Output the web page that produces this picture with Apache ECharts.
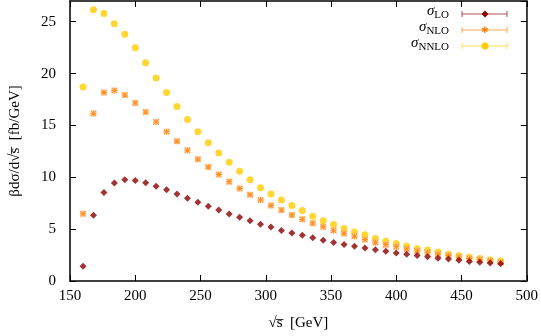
<!DOCTYPE html>
<html>
<head>
<meta charset="utf-8">
<script src="https://cdn.jsdelivr.net/npm/echarts@6/dist/echarts.min.js"></script>
<style>
  html, body { margin: 0; padding: 0; background: #fff; }
  #chart { width: 541px; height: 336px; }
</style>
</head>
<body>
<div id="chart"></div>
<script>
// sqrt(s) in GeV
const energies = [160, 168, 176, 184, 192, 200, 208, 216, 224, 232, 240, 248, 256, 264, 272, 280, 288, 296,
  304, 312, 320, 328, 336, 344, 352, 360, 368, 376, 384, 392, 400, 408, 416, 424, 432, 440, 448, 456, 464, 472, 480]

// beta dsigma/dsqrt(s) [fb/GeV]
const sigmaLO = [1.42, 6.33, 8.54, 9.45, 9.77, 9.70, 9.48, 9.14, 8.79, 8.38, 7.97, 7.59, 7.21, 6.84, 6.46, 6.14, 5.80, 5.47,
  5.20, 4.88, 4.63, 4.41, 4.16, 3.94, 3.72, 3.53, 3.34, 3.18, 3.02, 2.86, 2.71, 2.58, 2.46, 2.33, 2.20, 2.11, 2.01, 1.89, 1.80, 1.73, 1.67]
const sigmaNLO = [6.49, 16.16, 18.18, 18.37, 17.93, 17.17, 16.29, 15.34, 14.40, 13.48, 12.60, 11.75, 10.99, 10.27, 9.58, 8.92, 8.32, 7.81,
  7.28, 6.84, 6.36, 5.95, 5.58, 5.23, 4.88, 4.57, 4.32, 4.00, 3.72, 3.50, 3.31, 3.09, 2.90, 2.74, 2.58, 2.46, 2.30, 2.17, 2.08, 1.96, 1.82]
const sigmaNNLO = [18.70, 26.15, 25.80, 24.80, 23.80, 22.50, 21.05, 19.57, 18.18, 16.82, 15.57, 14.40, 13.33, 12.35, 11.44, 10.59, 9.77, 9.00,
  8.38, 7.81, 7.28, 6.80, 6.24, 5.80, 5.45, 5.07, 4.73, 4.47, 4.09, 3.84, 3.62, 3.37, 3.12, 3.00, 2.80, 2.58, 2.46, 2.30, 2.17, 2.05, 1.92]

const xTicks = [150, 200, 250, 300, 350, 400, 450, 500]
const yTicks = [0, 5, 10, 15, 20, 25]

const colLO = '#8b0000'
const colNLO = '#ff8000'
const colNLOpale = '#ffc48c'
const colNNLO = '#ffcc00'

const font = 'Liberation Serif, DejaVu Serif, serif'
const pts = ys => energies.map((x, i) => [x, ys[i]])

// gnuplot-like asterisk (+ and x)
const asterisk = 'path://M0,4.3H10V5.7H0Z M4.3,0H5.7V10H4.3Z M1,0L10,9L9,10L0,1Z M9,0L10,1L1,10L0,9Z'

const chart = echarts.init(document.getElementById('chart'), null, { renderer: 'canvas' })

const xBase = {
  type: 'value', min: 150, max: 500, interval: 50,
  axisLine: { show: true, onZero: false, lineStyle: { color: '#333', width: 1.5 } },
  axisTick: { show: true, inside: true, length: 6, lineStyle: { color: '#000' } },
  splitLine: { show: false }
}
const yBase = {
  type: 'value', min: 0, max: 27, interval: 5,
  axisLine: { show: true, onZero: false, lineStyle: { color: '#333', width: 1.5 } },
  axisTick: { show: true, inside: true, length: 6, lineStyle: { color: '#000' } },
  splitLine: { show: false }
}

// legend rows
const legendRows = [
  { name: 'LO', color: colLO, y: 14, symbol: 'diamond' },
  { name: 'NLO', color: colNLO, y: 30, symbol: 'asterisk' },
  { name: 'NNLO', color: colNNLO, y: 46, symbol: 'circle' }
]
const graphics = []
legendRows.forEach(r => {
  graphics.push({
    type: 'text', right: 541 - 449, top: r.y - 10,
    style: {
      text: '{s|σ}{b|' + r.name + '}',
      rich: {
        s: { fontFamily: font, fontStyle: 'italic', fontSize: 15, fill: '#000' },
        b: { fontFamily: font, fontSize: 11, fill: '#000', padding: [8, 0, 0, 0] }
      }
    }
  })
  const line = { stroke: r.color, opacity: 0.45, lineWidth: 1.5 }
  graphics.push({ type: 'line', shape: { x1: 462, y1: r.y, x2: 507, y2: r.y }, style: line })
  graphics.push({ type: 'line', shape: { x1: 462, y1: r.y - 3, x2: 462, y2: r.y + 3 }, style: line })
  graphics.push({ type: 'line', shape: { x1: 507, y1: r.y - 3, x2: 507, y2: r.y + 3 }, style: line })
  if (r.symbol === 'circle') {
    graphics.push({ type: 'circle', shape: { cx: 485, cy: r.y, r: 3.5 }, style: { fill: r.color } })
  } else if (r.symbol === 'diamond') {
    graphics.push({ type: 'polygon', shape: { points: [[485, r.y - 3.5], [488.5, r.y], [485, r.y + 3.5], [481.5, r.y]] }, style: { fill: r.color } })
  } else {
    graphics.push({ type: 'text', x: 485, y: r.y + 1, style: { text: '✱', fill: r.color, fontSize: 9, align: 'center', verticalAlign: 'middle' } })
  }
})

chart.setOption({
  animation: false,
  backgroundColor: '#fff',
  textStyle: { fontFamily: font },
  grid: { left: 66, right: 14, top: 1, bottom: 50, show: true, borderColor: '#333', borderWidth: 1.5 },
  xAxis: [
    {
      ...xBase, position: 'bottom',
      name: '√s̅  [GeV]', nameLocation: 'middle', nameGap: 35,
      nameTextStyle: { fontFamily: font, fontSize: 15, color: '#000' },
      axisLabel: { color: '#000', fontFamily: font, fontSize: 15, margin: 8 }
    },
    { ...xBase, position: 'top', axisLabel: { show: false } }
  ],
  yAxis: [
    {
      ...yBase, position: 'left',
      name: 'βdσ/d√s̅  [fb/GeV]', nameLocation: 'middle', nameGap: 47, nameRotate: 90,
      nameTextStyle: { fontFamily: font, fontSize: 15, color: '#000' },
      axisLabel: { color: '#000', fontFamily: font, fontSize: 15, margin: 14, showMaxLabel: false,
        formatter: v => (yTicks.includes(v) ? String(v) : '') }
    },
    { ...yBase, position: 'right', axisLabel: { show: false } }
  ],
  graphic: graphics,
  series: [
    {
      name: 'NNLO', type: 'scatter', data: pts(sigmaNNLO), symbol: 'circle', symbolSize: 7,
      itemStyle: { color: colNNLO }, z: 2
    },
    {
      name: 'NLO box', type: 'scatter', data: pts(sigmaNLO), symbol: 'rect', symbolSize: 6,
      itemStyle: { color: colNLOpale }, z: 3
    },
    {
      name: 'NLO', type: 'scatter', data: pts(sigmaNLO), symbol: asterisk, symbolSize: 6,
      itemStyle: { color: colNLO }, z: 4
    },
    {
      name: 'LO', type: 'scatter', data: pts(sigmaLO), symbol: 'diamond', symbolSize: [7, 7],
      itemStyle: { color: colLO }, z: 5
    }
  ]
})
</script>
</body>
</html>
